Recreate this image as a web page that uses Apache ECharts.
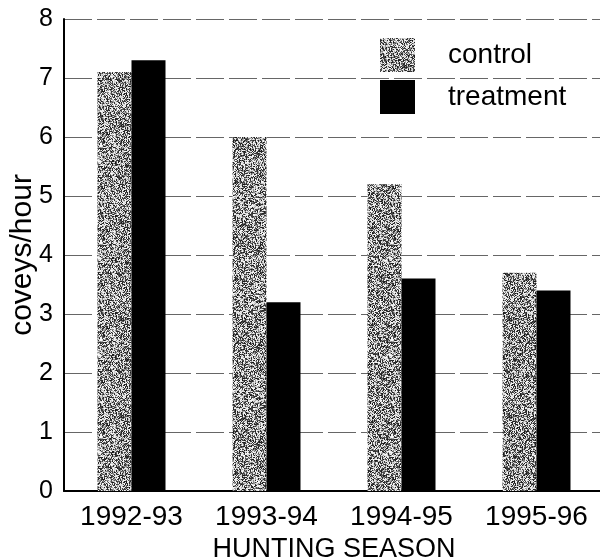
<!DOCTYPE html>
<html>
<head>
<meta charset="utf-8">
<script src="https://cdn.jsdelivr.net/npm/echarts@6/dist/echarts.min.js"></script>
<style>
  html, body { margin: 0; padding: 0; background: #fff; }
  #chart { width: 600px; height: 560px; }
</style>
</head>
<body>
<div id="chart"></div>
<script>
// Hunting seasons and covey encounter rates
const seasons = ['1992-93', '1993-94', '1994-95', '1995-96'];
const controlRate = [7.1, 6.0, 5.2, 3.7];
const treatmentRate = [7.3, 3.2, 3.6, 3.4];
const yTicks = [0, 1, 2, 3, 4, 5, 6, 7, 8];

// Speckled grey fill for the control bars (seeded so it renders the same each time)
function speckleCanvas(size) {
  const c = document.createElement('canvas');
  c.width = size; c.height = size;
  const ctx = c.getContext('2d');
  const img = ctx.createImageData(size, size);
  let seed = 12345;
  const next = () => { seed = (seed * 1103515245 + 12345) & 0x7fffffff; return seed / 0x7fffffff; };
  for (let i = 0; i < size * size; i++) {
    const r = next();
    let g;
    if (r < 0.4) g = 20 + Math.floor(next() * 70);
    else if (r < 0.58) g = 120 + Math.floor(next() * 60);
    else g = 205 + Math.floor(next() * 50);
    img.data[i * 4] = g; img.data[i * 4 + 1] = g; img.data[i * 4 + 2] = g; img.data[i * 4 + 3] = 255;
  }
  ctx.putImageData(img, 0, 0);
  return c;
}
const speckle = { image: speckleCanvas(97), repeat: 'repeat' };

const font = '"Liberation Sans", Arial, sans-serif';
const chart = echarts.init(document.getElementById('chart'), null, { renderer: 'canvas' });

chart.setOption({
  animation: false,
  backgroundColor: '#fff',
  grid: { left: 64, top: 19, width: 540, height: 472, containLabel: false, outerBoundsMode: 'none' },
  legend: {
    orient: 'vertical',
    left: 375,
    top: 33,
    itemWidth: 35,
    itemHeight: 34,
    itemGap: 8,
    icon: 'rect',
    textStyle: { fontFamily: font, fontSize: 28, color: '#000', padding: [0, 0, 0, 28] },
    data: ['control', 'treatment']
  },
  xAxis: {
    type: 'category',
    data: seasons,
    name: 'HUNTING SEASON',
    nameLocation: 'middle',
    nameGap: 45,
    nameMoveOverlap: false,
    nameTextStyle: { fontFamily: font, fontSize: 27, color: '#000' },
    axisLine: { lineStyle: { color: '#000', width: 2 } },
    axisTick: { show: false },
    axisLabel: { fontFamily: font, fontSize: 28, color: '#000', margin: 12 }
  },
  yAxis: {
    type: 'value',
    min: yTicks[0],
    max: yTicks[yTicks.length - 1],
    interval: 1,
    name: 'coveys/hour',
    nameLocation: 'middle',
    nameGap: 26,
    nameMoveOverlap: false,
    nameTextStyle: { fontFamily: font, fontSize: 30, color: '#000' },
    axisLine: { show: true, lineStyle: { color: '#000', width: 2 } },
    axisTick: { show: false },
    axisLabel: { fontFamily: font, fontSize: 25, color: '#000', margin: 11 },
    splitLine: { show: true, lineStyle: { color: '#666', width: 1, type: [28, 5] } }
  },
  series: [
    {
      name: 'control',
      type: 'bar',
      data: controlRate,
      barWidth: 34,
      barGap: '0%',
      itemStyle: { color: speckle }
    },
    {
      name: 'treatment',
      type: 'bar',
      data: treatmentRate,
      barWidth: 34,
      itemStyle: { color: '#000' }
    }
  ]
});
</script>
</body>
</html>
